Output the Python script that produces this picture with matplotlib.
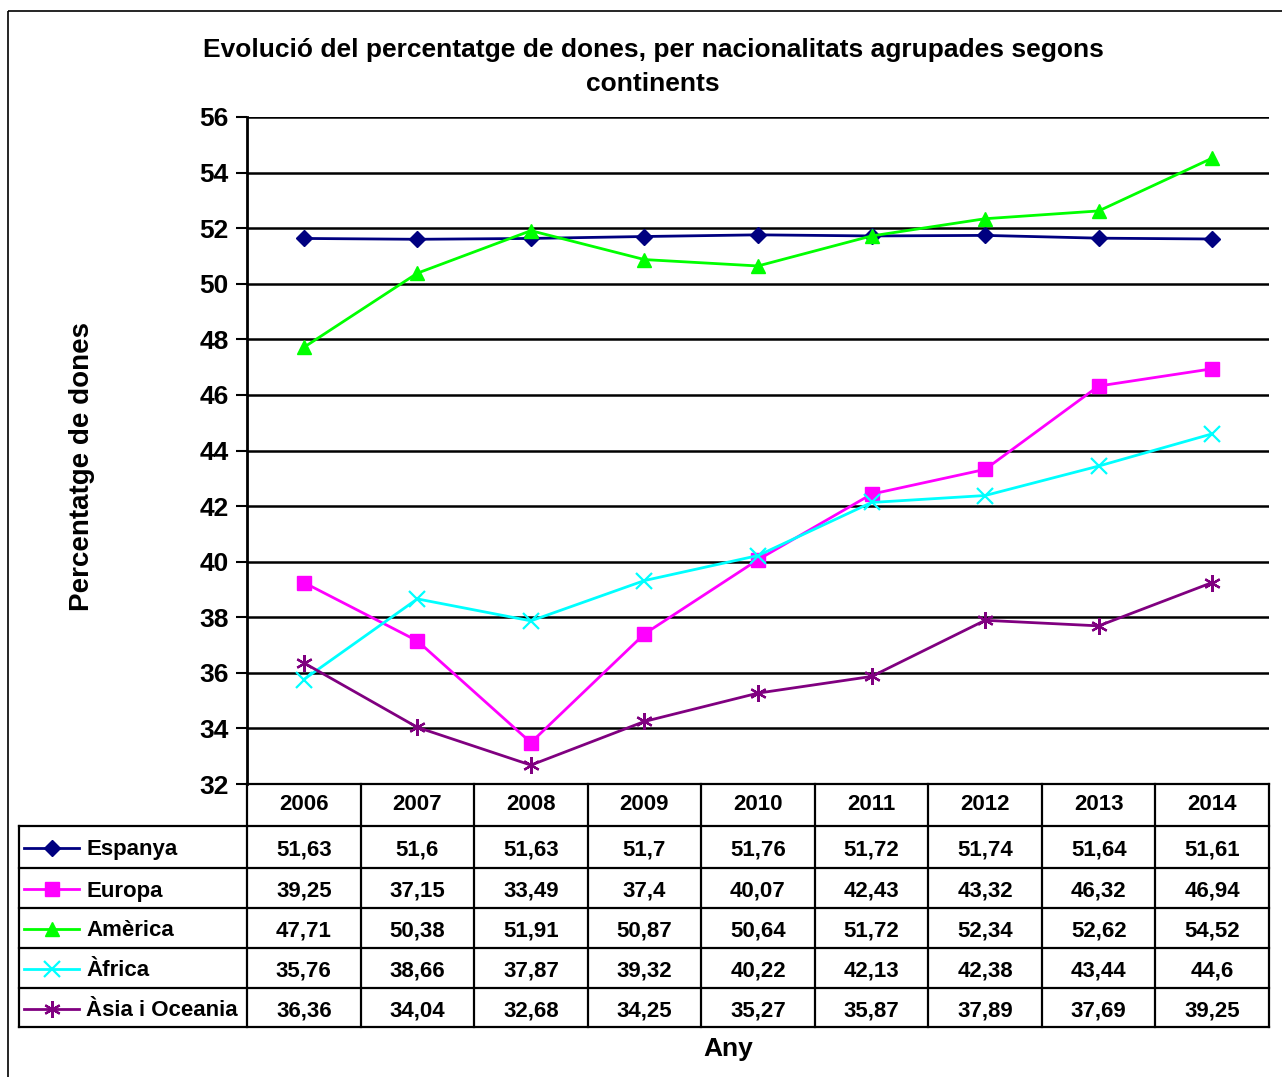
import matplotlib
matplotlib.use("Agg")
import matplotlib.pyplot as plt
from matplotlib.patches import Rectangle

plt.rcParams['font.family'] = ['Liberation Sans', 'DejaVu Sans']
plt.rcParams['font.weight'] = 'bold'

years = ['2006', '2007', '2008', '2009', '2010', '2011', '2012', '2013', '2014']
series_names = ['Espanya', 'Europa', 'Amèrica', 'Àfrica', 'Àsia i Oceania']
espanya = [51.63, 51.6, 51.63, 51.7, 51.76, 51.72, 51.74, 51.64, 51.61]
europa = [39.25, 37.15, 33.49, 37.4, 40.07, 42.43, 43.32, 46.32, 46.94]
america = [47.71, 50.38, 51.91, 50.87, 50.64, 51.72, 52.34, 52.62, 54.52]
africa = [35.76, 38.66, 37.87, 39.32, 40.22, 42.13, 42.38, 43.44, 44.6]
asia = [36.36, 34.04, 32.68, 34.25, 35.27, 35.87, 37.89, 37.69, 39.25]

series = [espanya, europa, america, africa, asia]
colors = ['#000080', '#FF00FF', '#00FF00', '#00FFFF', '#800080']
markers = ['D', 's', '^', 'x', (6, 2, 0)]
msizes = [8, 10, 10, 11, 12]

W, H = 1282, 1077
fig = plt.figure(figsize=(W / 100, H / 100), dpi=100)

# plot area in pixel coords
x0, x1, y_top, y_bot = 247, 1269, 117, 784
ax = fig.add_axes([x0 / W, 1 - y_bot / H, (x1 - x0) / W, (y_bot - y_top) / H])
xs = list(range(len(years)))
for vals, c, m, ms in zip(series, colors, markers, msizes):
    ax.plot(xs, vals, color=c, marker=m, markersize=ms, linewidth=2,
            markeredgewidth=1.6 if m in ('x', (6, 2, 0)) else 1, clip_on=False)
ax.set_xlim(-0.5, len(years) - 0.5)
ax.set_ylim(32, 56)
ax.set_yticks(range(32, 57, 2))
ax.yaxis.grid(True, color='black', linewidth=1.8)
ax.set_axisbelow(True)
ax.set_xticks([])
for s in ['top', 'right', 'bottom']:
    ax.spines[s].set_visible(False)
ax.spines['left'].set_linewidth(2)
ax.tick_params(axis='y', length=8, width=1.5, labelsize=19, pad=5)
for lab in ax.get_yticklabels():
    lab.set_fontweight('bold')
ax.set_ylabel('Percentatge de dones', fontsize=20, fontweight='bold')
ax.yaxis.set_label_coords(-0.149, 0.476)

# overlay in pixel coordinates for title and frame
ov = fig.add_axes([0, 0, 1, 1], zorder=-1)
ov.set_xlim(0, W)
ov.set_ylim(H, 0)
ov.axis('off')
ov.add_patch(Rectangle((8, 11), 1300, 1100, fill=False, edgecolor='black', linewidth=1.2))

ov.text(653, 50, 'Evolució del percentatge de dones, per nacionalitats agrupades segons',
        ha='center', va='center', fontsize=19, fontweight='bold')
ov.text(653, 84, 'continents', ha='center', va='center', fontsize=19, fontweight='bold')

# data table
tbl = fig.add_axes([0, 0, 1, 1], zorder=2)
tbl.set_xlim(0, W)
tbl.set_ylim(H, 0)
tbl.axis('off')
leg_x0 = 19
row_edges = [784, 826, 868, 908, 948, 988, 1027]
colw = (x1 - x0) / len(years)
col_edges = [x0 + i * colw for i in range(len(years) + 1)]
lw = 1.6
tbl.plot([x0, x1], [row_edges[0]] * 2, color='black', lw=lw)
for y in row_edges[1:]:
    tbl.plot([leg_x0, x1], [y, y], color='black', lw=lw)
for x in col_edges:
    tbl.plot([x, x], [row_edges[0], row_edges[-1]], color='black', lw=lw)
tbl.plot([leg_x0, leg_x0], [row_edges[1], row_edges[-1]], color='black', lw=lw)

def fmt(v):
    return ('%g' % v).replace('.', ',')

for j, yr in enumerate(years):
    cx = (col_edges[j] + col_edges[j + 1]) / 2
    tbl.text(cx, (row_edges[0] + row_edges[1]) / 2, yr, ha='center', va='center',
             fontsize=16, fontweight='bold')
for i, (name, vals, c, m, ms) in enumerate(zip(series_names, series, colors, markers, msizes)):
    cy = (row_edges[i + 1] + row_edges[i + 2]) / 2 + 3
    tbl.plot([24, 79], [cy - 2, cy - 2], color=c, lw=2)
    tbl.plot([51.5], [cy - 2], color=c, marker=m, markersize=ms,
             markeredgewidth=1.6 if m in ('x', (6, 2, 0)) else 1)
    tbl.text(86, cy, name, ha='left', va='center', fontsize=16, fontweight='bold')
    for j, v in enumerate(vals):
        cx = (col_edges[j] + col_edges[j + 1]) / 2
        tbl.text(cx, cy, fmt(v), ha='center', va='center', fontsize=16, fontweight='bold')

tbl.text(728, 1049, 'Any', ha='center', va='center', fontsize=19, fontweight='bold')

fig.savefig('out.png', dpi=100)
